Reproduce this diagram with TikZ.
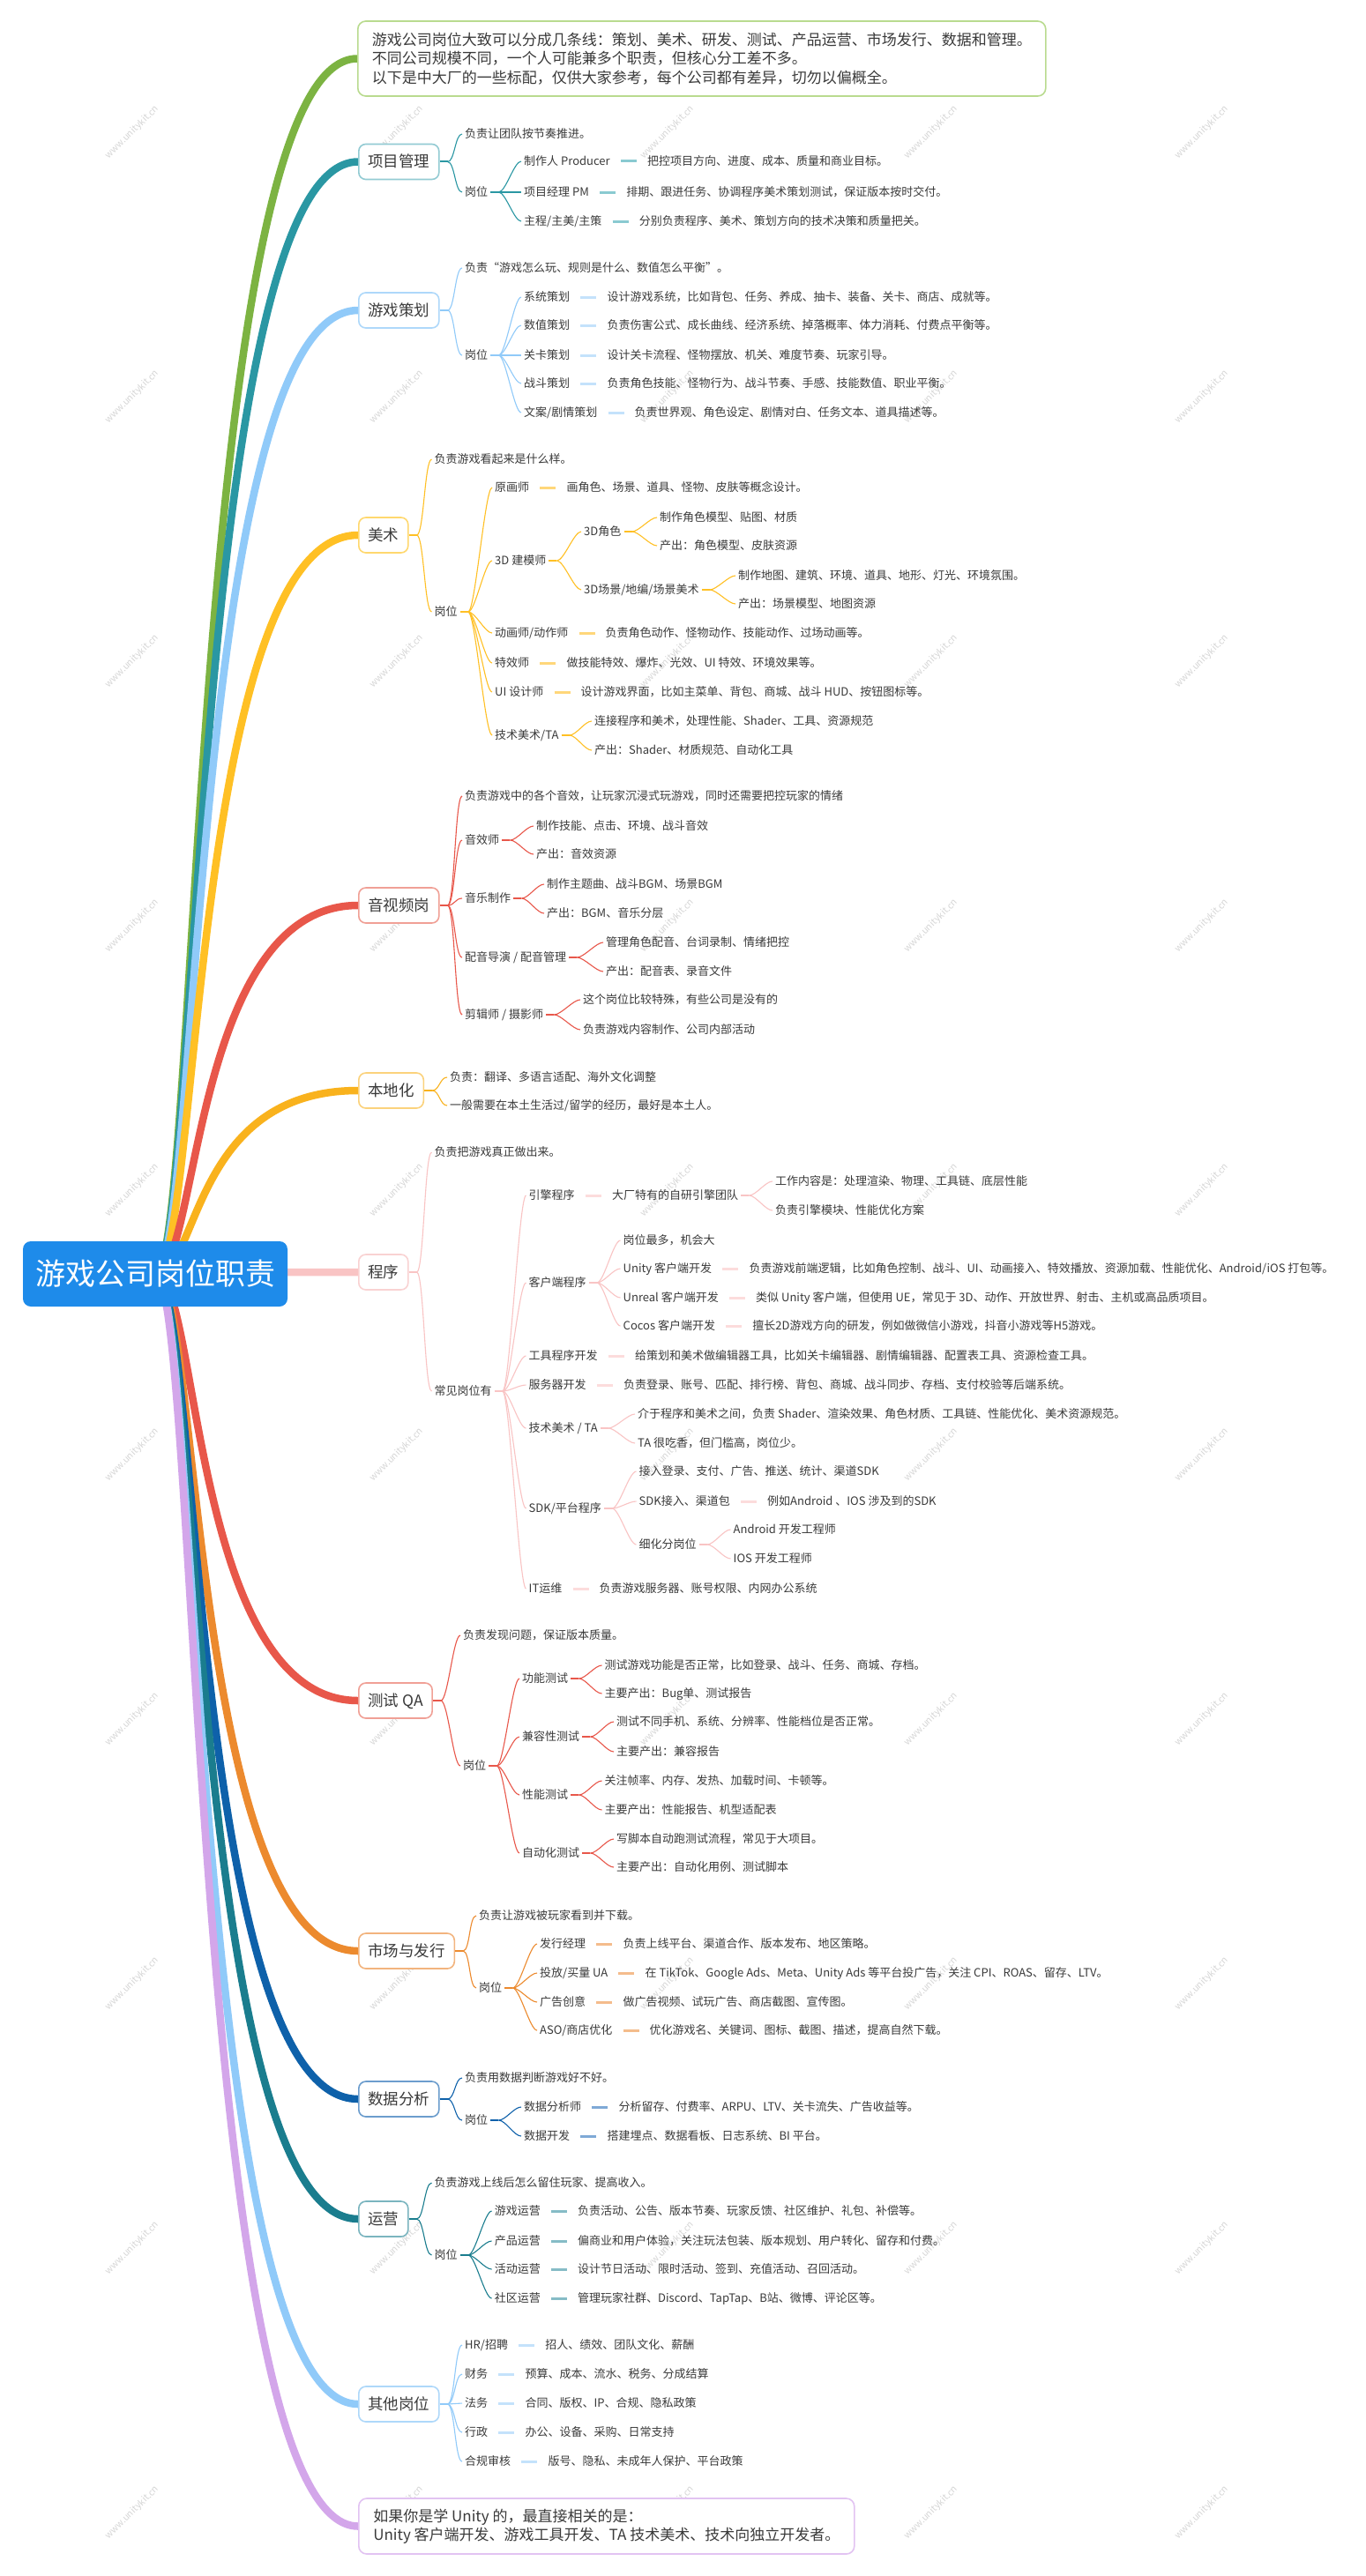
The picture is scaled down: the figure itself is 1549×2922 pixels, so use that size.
\documentclass[tikz,border=0pt]{standalone}
\usepackage{fontspec}
\setmainfont{Noto Sans CJK SC}
\usetikzlibrary{calc}
\pgfdeclarelayer{bg}
\pgfsetlayers{bg,main}
\definecolor{txt}{HTML}{3A3A3A}
\definecolor{cRoot}{HTML}{1E8BEA}
\definecolor{cGreen}{HTML}{7CB342}\definecolor{cGreenL}{HTML}{B9DB8F}
\definecolor{cTeal}{HTML}{2A97A3}\definecolor{cTealL}{HTML}{93CBD3}\definecolor{cTealD}{HTML}{8ACAD1}
\definecolor{cBlue}{HTML}{90CAF9}\definecolor{cBlueL}{HTML}{AED8FA}\definecolor{cBlueD}{HTML}{C4E2FB}
\definecolor{cAmb}{HTML}{FFC024}\definecolor{cAmbL}{HTML}{FFD86E}\definecolor{cAmbD}{HTML}{FFD77A}
\definecolor{cRed}{HTML}{E8574A}\definecolor{cRedL}{HTML}{F0A096}\definecolor{cRedD}{HTML}{F3A89F}
\definecolor{cAmbB}{HTML}{F9B21D}\definecolor{cAmbBL}{HTML}{FBD27C}
\definecolor{cPink}{HTML}{F9C4C4}\definecolor{cPinkL}{HTML}{F9D2D2}\definecolor{cPinkD}{HTML}{FCDCDC}
\definecolor{cOra}{HTML}{EC8A2E}\definecolor{cOraL}{HTML}{F2B47E}\definecolor{cOraD}{HTML}{F4BC8C}
\definecolor{cDBlue}{HTML}{0E61AA}\definecolor{cDBlueL}{HTML}{6C9DCD}\definecolor{cDBlueD}{HTML}{7FA9D6}
\definecolor{cDTeal}{HTML}{1A7D8E}\definecolor{cDTealL}{HTML}{7BB5BF}\definecolor{cDTealD}{HTML}{86BCC6}
\definecolor{cPur}{HTML}{D3A6EA}\definecolor{cPurL}{HTML}{E2C3F2}
\newcommand\fleaf{\fontsize{13}{16}\selectfont}
\newcommand\fcat{\fontsize{17.5}{22}\selectfont}
\newcommand\ftop{\fontsize{17}{21.5}\selectfont}
\newcommand\froot{\fontsize{34}{40}\selectfont}
\tikzset{
 leaf/.style={anchor=west, inner xsep=3pt, inner ysep=1pt, text=txt, font=\fleaf, text height=11pt, text depth=2pt},
 cat/.style={anchor=west, draw=#1, fill=white, rounded corners=8pt, line width=1.6pt, minimum height=40pt, inner xsep=10.5pt, font=\fcat, text=txt, text height=15pt, text depth=3pt},
 bigbox/.style={anchor=west, draw=#1, fill=white, rounded corners=9pt, line width=1.6pt, inner xsep=10.5pt, align=left, font=\ftop, text=txt},
 rootbox/.style={fill=cRoot, rounded corners=9pt, minimum width=300pt, minimum height=74pt, text=white, font=\froot, inner xsep=12pt},
 wm/.style={rotate=45, text=black!16, font=\fontsize{10.5}{12}\selectfont},
}
% leaf node: name, x, y, text
\newcommand\lf[4]{\node[leaf] (#1) at (#2-3,#3) {#4};}
% pair: name, x, y, label, value, dash colour
\newcommand\pr[6]{\node[leaf] (#1) at (#2-3,#3) {#4};
 \node[leaf] (#1-v) at ([xshift=36pt]#1.east) {#5};
 \draw[#6, line width=3pt] ([xshift=9pt]#1.east) -- ([xshift=-9pt]#1-v.west);}
% stub from parent: name, colour
\newcommand\stub[2]{\draw[#2, line width=2pt] (#1.east) -- ++(9,0) coordinate (#1-j);}
% link junction to child: parent, child, colour
\newcommand\lk[3]{\draw[#3, line width=1.1pt] (#1-j) .. controls +(8,0) and +(-8,0) .. (#2.west);}
\newcommand\bra[2]{\draw[line width=8.5pt, #2] (rootS) .. controls +(50,0) and ($(rootS|-#1.west)+(40,0)$) .. (#1.west);}
\begin{document}
\begin{tikzpicture}[x=1pt,y=-1pt]
\useasboundingbox (0,0) rectangle (1549,2922);
\begin{pgfonlayer}{bg}
\fill[white] (0,0) rectangle (1549,2922);
\foreach \i in {150,450,757,1056,1363}{\foreach \j in {150,450,...,2850}{\node[wm] (wm-\i-\j) at (\i,\j) {www.unitykit.cn};}}
\end{pgfonlayer}

\node[rootbox] (root) at (176,1445) {游戏公司岗位职责};
\coordinate (rootS) at (176,1445);

% top box
\node[bigbox=cGreenL, minimum width=780pt, minimum height=85pt] (top) at (405,66.5) {游戏公司岗位大致可以分成几条线：策划、美术、研发、测试、产品运营、市场发行、数据和管理。\\不同公司规模不同，一个人可能兼多个职责，但核心分工差不多。\\以下是中大厂的一些标配，仅供大家参考，每个公司都有差异，切勿以偏概全。};

% ===== 项目管理
\node[cat=cTealL] (pm) at (406,183.5) {项目管理};
\lf{pm1}{527}{152}{负责让团队按节奏推进。}
\lf{pm2}{527}{218}{岗位}
\pr{pm2a}{594}{183}{制作人 Producer}{把控项目方向、进度、成本、质量和商业目标。}{cTealD}
\pr{pm2b}{594}{218}{项目经理 PM}{排期、跟进任务、协调程序美术策划测试，保证版本按时交付。}{cTealD}
\pr{pm2c}{594}{251}{主程/主美/主策}{分别负责程序、美术、策划方向的技术决策和质量把关。}{cTealD}
\stub{pm}{cTeal}\lk{pm}{pm1}{cTeal}\lk{pm}{pm2}{cTeal}
\stub{pm2}{cTeal}\lk{pm2}{pm2a}{cTeal}\lk{pm2}{pm2b}{cTeal}\lk{pm2}{pm2c}{cTeal}

% ===== 游戏策划
\node[cat=cBlueL] (gd) at (406,352) {游戏策划};
\lf{gd1}{527}{304}{负责“游戏怎么玩、规则是什么、数值怎么平衡”。}
\lf{gd2}{527}{403}{岗位}
\pr{gd2a}{594}{337}{系统策划}{设计游戏系统，比如背包、任务、养成、抽卡、装备、关卡、商店、成就等。}{cBlueD}
\pr{gd2b}{594}{369}{数值策划}{负责伤害公式、成长曲线、经济系统、掉落概率、体力消耗、付费点平衡等。}{cBlueD}
\pr{gd2c}{594}{403}{关卡策划}{设计关卡流程、怪物摆放、机关、难度节奏、玩家引导。}{cBlueD}
\pr{gd2d}{594}{435}{战斗策划}{负责角色技能、怪物行为、战斗节奏、手感、技能数值、职业平衡。}{cBlueD}
\pr{gd2e}{594}{468}{文案/剧情策划}{负责世界观、角色设定、剧情对白、任务文本、道具描述等。}{cBlueD}
\stub{gd}{cBlue}\lk{gd}{gd1}{cBlue}\lk{gd}{gd2}{cBlue}
\stub{gd2}{cBlue}\foreach \c in {a,b,c,d,e}{\lk{gd2}{gd2\c}{cBlue}}

% ===== 美术
\node[cat=cAmbL] (art) at (406,607) {美术};
\lf{art1}{492.5}{521}{负责游戏看起来是什么样。}
\lf{art2}{492.5}{694}{岗位}
\pr{art2a}{561}{553}{原画师}{画角色、场景、道具、怪物、皮肤等概念设计。}{cAmbD}
\lf{art2b}{561}{636}{3D 建模师}
\lf{art2b1}{662}{603}{3D角色}
\lf{art2b1a}{748}{587}{制作角色模型、贴图、材质}
\lf{art2b1b}{748}{619}{产出：角色模型、皮肤资源}
\lf{art2b2}{662}{669}{3D场景/地编/场景美术}
\lf{art2b2a}{837}{653}{制作地图、建筑、环境、道具、地形、灯光、环境氛围。}
\lf{art2b2b}{837}{685}{产出：场景模型、地图资源}
\pr{art2c}{561}{718}{动画师/动作师}{负责角色动作、怪物动作、技能动作、过场动画等。}{cAmbD}
\pr{art2d}{561}{752}{特效师}{做技能特效、爆炸、光效、UI 特效、环境效果等。}{cAmbD}
\pr{art2e}{561}{785}{UI 设计师}{设计游戏界面，比如主菜单、背包、商城、战斗 HUD、按钮图标等。}{cAmbD}
\lf{art2f}{561}{834}{技术美术/TA}
\lf{art2f1}{674}{818}{连接程序和美术，处理性能、Shader、工具、资源规范}
\lf{art2f2}{674}{851}{产出：Shader、材质规范、自动化工具}
\stub{art}{cAmb}\lk{art}{art1}{cAmb}\lk{art}{art2}{cAmb}
\stub{art2}{cAmb}\foreach \c in {a,b,c,d,e,f}{\lk{art2}{art2\c}{cAmb}}
\stub{art2b}{cAmb}\lk{art2b}{art2b1}{cAmb}\lk{art2b}{art2b2}{cAmb}
\stub{art2b1}{cAmb}\lk{art2b1}{art2b1a}{cAmb}\lk{art2b1}{art2b1b}{cAmb}
\stub{art2b2}{cAmb}\lk{art2b2}{art2b2a}{cAmb}\lk{art2b2}{art2b2b}{cAmb}
\stub{art2f}{cAmb}\lk{art2f}{art2f1}{cAmb}\lk{art2f}{art2f2}{cAmb}

% ===== 音视频岗
\node[cat=cRedL] (av) at (406,1027) {音视频岗};
\lf{av1}{527}{903}{负责游戏中的各个音效，让玩家沉浸式玩游戏，同时还需要把控玩家的情绪}
\lf{av2}{527}{953}{音效师}
\lf{av2a}{608}{937}{制作技能、点击、环境、战斗音效}
\lf{av2b}{608}{969}{产出：音效资源}
\lf{av3}{527}{1019}{音乐制作}
\lf{av3a}{620}{1003}{制作主题曲、战斗BGM、场景BGM}
\lf{av3b}{620}{1036}{产出：BGM、音乐分层}
\lf{av4}{527}{1086}{配音导演 / 配音管理}
\lf{av4a}{687}{1069}{管理角色配音、台词录制、情绪把控}
\lf{av4b}{687}{1102}{产出：配音表、录音文件}
\lf{av5}{527}{1151}{剪辑师 / 摄影师}
\lf{av5a}{661}{1134}{这个岗位比较特殊，有些公司是没有的}
\lf{av5b}{661}{1168}{负责游戏内容制作、公司内部活动}
\stub{av}{cRed}\foreach \c in {1,2,3,4,5}{\lk{av}{av\c}{cRed}}
\foreach \c in {2,3,4,5}{\stub{av\c}{cRed}\lk{av\c}{av\c a}{cRed}\lk{av\c}{av\c b}{cRed}}

% ===== 本地化
\node[cat=cAmbBL] (loc) at (406,1237) {本地化};
\lf{loc1}{510}{1222}{负责：翻译、多语言适配、海外文化调整}
\lf{loc2}{510}{1254}{一般需要在本土生活过/留学的经历，最好是本土人。}
\stub{loc}{cAmbB}\lk{loc}{loc1}{cAmbB}\lk{loc}{loc2}{cAmbB}

% ===== 程序
\node[cat=cPinkL] (prog) at (406,1443) {程序};
\lf{pg1}{492.5}{1307}{负责把游戏真正做出来。}
\lf{pg2}{492.5}{1578}{常见岗位有}
\pr{pga}{599.5}{1356}{引擎程序}{大厂特有的自研引擎团队}{cPinkD}
\lf{pga1}{879}{1340}{工作内容是：处理渲染、物理、工具链、底层性能}
\lf{pga2}{879}{1373}{负责引擎模块、性能优化方案}
\lf{pgb}{599.5}{1455}{客户端程序}
\lf{pgb1}{706.5}{1407}{岗位最多，机会大}
\pr{pgb2}{706.5}{1439}{Unity 客户端开发}{负责游戏前端逻辑，比如角色控制、战斗、UI、动画接入、特效播放、资源加载、性能优化、Android/iOS 打包等。}{cPinkD}
\pr{pgb3}{706.5}{1472}{Unreal 客户端开发}{类似 Unity 客户端，但使用 UE，常见于 3D、动作、开放世界、射击、主机或高品质项目。}{cPinkD}
\pr{pgb4}{706.5}{1504}{Cocos 客户端开发}{擅长2D游戏方向的研发，例如做微信小游戏，抖音小游戏等H5游戏。}{cPinkD}
\pr{pgc}{599.5}{1538}{工具程序开发}{给策划和美术做编辑器工具，比如关卡编辑器、剧情编辑器、配置表工具、资源检查工具。}{cPinkD}
\pr{pgd}{599.5}{1571}{服务器开发}{负责登录、账号、匹配、排行榜、背包、商城、战斗同步、存档、支付校验等后端系统。}{cPinkD}
\lf{pge}{599.5}{1620}{技术美术 / TA}
\lf{pge1}{723}{1604}{介于程序和美术之间，负责 Shader、渲染效果、角色材质、工具链、性能优化、美术资源规范。}
\lf{pge2}{723}{1637}{TA 很吃香，但门槛高，岗位少。}
\lf{pgf}{599.5}{1711}{SDK/平台程序}
\lf{pgf1}{724.5}{1669}{接入登录、支付、广告、推送、统计、渠道SDK}
\pr{pgf2}{724.5}{1703}{SDK接入、渠道包}{例如Android 、IOS 涉及到的SDK}{cPinkD}
\lf{pgf3}{724.5}{1752}{细化分岗位}
\lf{pgf3a}{831.5}{1735}{Android 开发工程师}
\lf{pgf3b}{831.5}{1768}{IOS 开发工程师}
\pr{pgg}{599.5}{1802}{IT运维}{负责游戏服务器、账号权限、内网办公系统}{cPinkD}
\stub{prog}{cPink}\lk{prog}{pg1}{cPink}\lk{prog}{pg2}{cPink}
\stub{pg2}{cPink}\foreach \c in {a,b,c,d,e,f,g}{\lk{pg2}{pg\c}{cPink}}
\stub{pga-v}{cPink}\lk{pga-v}{pga1}{cPink}\lk{pga-v}{pga2}{cPink}
\stub{pgb}{cPink}\foreach \c in {1,2,3,4}{\lk{pgb}{pgb\c}{cPink}}
\stub{pge}{cPink}\lk{pge}{pge1}{cPink}\lk{pge}{pge2}{cPink}
\stub{pgf}{cPink}\foreach \c in {1,2,3}{\lk{pgf}{pgf\c}{cPink}}
\stub{pgf3}{cPink}\lk{pgf3}{pgf3a}{cPink}\lk{pgf3}{pgf3b}{cPink}

% ===== 测试 QA
\node[cat=cRedL] (qa) at (406,1929) {测试 QA};
\lf{qa1}{525}{1855}{负责发现问题，保证版本质量。}
\lf{qa2}{525}{2003}{岗位}
\lf{qaa}{592}{1904}{功能测试}
\lf{qaa1}{685.5}{1889}{测试游戏功能是否正常，比如登录、战斗、任务、商城、存档。}
\lf{qaa2}{685.5}{1921}{主要产出：Bug单、测试报告}
\lf{qab}{592}{1970}{兼容性测试}
\lf{qab1}{699}{1953}{测试不同手机、系统、分辨率、性能档位是否正常。}
\lf{qab2}{699}{1987}{主要产出：兼容报告}
\lf{qac}{592}{2036}{性能测试}
\lf{qac1}{685.5}{2020}{关注帧率、内存、发热、加载时间、卡顿等。}
\lf{qac2}{685.5}{2053}{主要产出：性能报告、机型适配表}
\lf{qad}{592}{2102}{自动化测试}
\lf{qad1}{699}{2086}{写脚本自动跑测试流程，常见于大项目。}
\lf{qad2}{699}{2118}{主要产出：自动化用例、测试脚本}
\stub{qa}{cRed}\lk{qa}{qa1}{cRed}\lk{qa}{qa2}{cRed}
\stub{qa2}{cRed}\foreach \c in {a,b,c,d}{\lk{qa2}{qa\c}{cRed}\stub{qa\c}{cRed}\lk{qa\c}{qa\c1}{cRed}\lk{qa\c}{qa\c2}{cRed}}

% ===== 市场与发行
\node[cat=cOraL] (mk) at (406,2213) {市场与发行};
\lf{mk1}{543}{2173}{负责让游戏被玩家看到并下载。}
\lf{mk2}{543}{2255}{岗位}
\pr{mka}{612}{2205}{发行经理}{负责上线平台、渠道合作、版本发布、地区策略。}{cOraD}
\pr{mkb}{612}{2238}{投放/买量 UA}{在 TikTok、Google Ads、Meta、Unity Ads 等平台投广告，关注 CPI、ROAS、留存、LTV。}{cOraD}
\pr{mkc}{612}{2271}{广告创意}{做广告视频、试玩广告、商店截图、宣传图。}{cOraD}
\pr{mkd}{612}{2303}{ASO/商店优化}{优化游戏名、关键词、图标、截图、描述，提高自然下载。}{cOraD}
\stub{mk}{cOra}\lk{mk}{mk1}{cOra}\lk{mk}{mk2}{cOra}
\stub{mk2}{cOra}\foreach \c in {a,b,c,d}{\lk{mk2}{mk\c}{cOra}}

% ===== 数据分析
\node[cat=cDBlueL] (da) at (406,2381) {数据分析};
\lf{da1}{527}{2357}{负责用数据判断游戏好不好。}
\lf{da2}{527}{2405}{岗位}
\pr{daa}{594}{2390}{数据分析师}{分析留存、付费率、ARPU、LTV、关卡流失、广告收益等。}{cDBlueD}
\pr{dab}{594}{2423}{数据开发}{搭建埋点、数据看板、日志系统、BI 平台。}{cDBlueD}
\stub{da}{cDBlue}\lk{da}{da1}{cDBlue}\lk{da}{da2}{cDBlue}
\stub{da2}{cDBlue}\lk{da2}{daa}{cDBlue}\lk{da2}{dab}{cDBlue}

% ===== 运营
\node[cat=cDTealL] (op) at (406,2517) {运营};
\lf{op1}{492.5}{2476}{负责游戏上线后怎么留住玩家、提高收入。}
\lf{op2}{492.5}{2558}{岗位}
\pr{opa}{560.6}{2508}{游戏运营}{负责活动、公告、版本节奏、玩家反馈、社区维护、礼包、补偿等。}{cDTealD}
\pr{opb}{560.6}{2542}{产品运营}{偏商业和用户体验，关注玩法包装、版本规划、用户转化、留存和付费。}{cDTealD}
\pr{opc}{560.6}{2574}{活动运营}{设计节日活动、限时活动、签到、充值活动、召回活动。}{cDTealD}
\pr{opd}{560.6}{2607}{社区运营}{管理玩家社群、Discord、TapTap、B站、微博、评论区等。}{cDTealD}
\stub{op}{cDTeal}\lk{op}{op1}{cDTeal}\lk{op}{op2}{cDTeal}
\stub{op2}{cDTeal}\foreach \c in {a,b,c,d}{\lk{op2}{op\c}{cDTeal}}

% ===== 其他岗位
\node[cat=cBlueL] (ot) at (406,2727) {其他岗位};
\pr{ota}{527}{2660}{HR/招聘}{招人、绩效、团队文化、薪酬}{cBlueD}
\pr{otb}{527}{2693}{财务}{预算、成本、流水、税务、分成结算}{cBlueD}
\pr{otc}{527}{2726}{法务}{合同、版权、IP、合规、隐私政策}{cBlueD}
\pr{otd}{527}{2759}{行政}{办公、设备、采购、日常支持}{cBlueD}
\pr{ote}{527}{2792}{合规审核}{版号、隐私、未成年人保护、平台政策}{cBlueD}
\stub{ot}{cBlue}\foreach \c in {a,b,c,d,e}{\lk{ot}{ot\c}{cBlue}}

% bottom box
\node[bigbox=cPurL, minimum width=562pt, minimum height=63pt] (bot) at (406,2865.5) {如果你是学 Unity 的，最直接相关的是：\\Unity 客户端开发、游戏工具开发、TA 技术美术、技术向独立开发者。};

% main branches
\begin{pgfonlayer}{bg}
\bra{top}{cGreen}
\bra{pm}{cTeal}
\bra{gd}{cBlue}
\bra{art}{cAmb}
\bra{av}{cRed}
\bra{loc}{cAmbB}
\bra{prog}{cPink}
\bra{qa}{cRed}
\bra{mk}{cOra}
\bra{da}{cDBlue}
\bra{op}{cDTeal}
\bra{ot}{cBlue}
\bra{bot}{cPur}
\end{pgfonlayer}
\end{tikzpicture}
\end{document}
